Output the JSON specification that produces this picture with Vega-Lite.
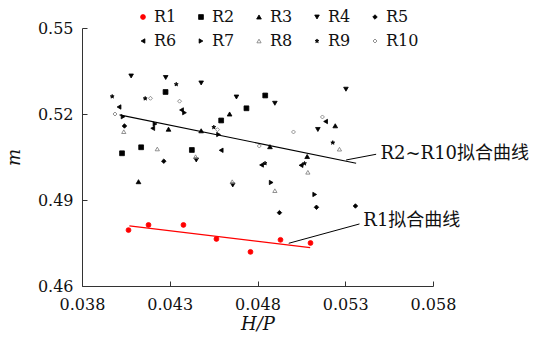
{
  "$schema": "https://vega.github.io/schema/vega-lite/v6.json",
  "width": 351,
  "height": 258,
  "autosize": {"type": "none"},
  "padding": {"left": 82, "top": 28, "right": 105, "bottom": 55},
  "background": "white",
  "config": {
    "view": {"stroke": null},
    "axis": {
      "grid": false,
      "domainColor": "#333333",
      "tickColor": "#333333",
      "labelFont": "DejaVu Serif",
      "labelFontSize": 16,
      "labelColor": "#111111",
      "titleFont": "DejaVu Serif",
      "titleFontSize": 18,
      "titleFontWeight": "normal",
      "titleFontStyle": "italic",
      "titleColor": "#111111",
      "tickSize": -5,
      "labelFlush": false
    }
  },
  "layer": [
    {
      "data": {
        "values": [
          {"series": "R1", "x": 0.04065, "y": 0.4795},
          {"series": "R1", "x": 0.04179, "y": 0.4813},
          {"series": "R1", "x": 0.04378, "y": 0.4813},
          {"series": "R1", "x": 0.04566, "y": 0.4764},
          {"series": "R1", "x": 0.0476, "y": 0.4719},
          {"series": "R1", "x": 0.04931, "y": 0.4761},
          {"series": "R1", "x": 0.05102, "y": 0.475},
          {"series": "R2", "x": 0.04276, "y": 0.52768},
          {"series": "R2", "x": 0.04844, "y": 0.52646},
          {"series": "R2", "x": 0.04737, "y": 0.52199},
          {"series": "R2", "x": 0.04593, "y": 0.51774},
          {"series": "R2", "x": 0.04028, "y": 0.5063},
          {"series": "R2", "x": 0.04137, "y": 0.50839},
          {"series": "R2", "x": 0.04426, "y": 0.50745},
          {"series": "R3", "x": 0.04641, "y": 0.52},
          {"series": "R3", "x": 0.04293, "y": 0.5147},
          {"series": "R3", "x": 0.04479, "y": 0.51414},
          {"series": "R3", "x": 0.04871, "y": 0.5086},
          {"series": "R3", "x": 0.05083, "y": 0.50518},
          {"series": "R3", "x": 0.04122, "y": 0.49639},
          {"series": "R3", "x": 0.05243, "y": 0.51589},
          {"series": "R4", "x": 0.0408, "y": 0.53326},
          {"series": "R4", "x": 0.04277, "y": 0.53273},
          {"series": "R4", "x": 0.04479, "y": 0.53082},
          {"series": "R4", "x": 0.0468, "y": 0.52593},
          {"series": "R4", "x": 0.04899, "y": 0.52374},
          {"series": "R4", "x": 0.05304, "y": 0.52865},
          {"series": "R4", "x": 0.05144, "y": 0.5146},
          {"series": "R4", "x": 0.04451, "y": 0.50396},
          {"series": "R4", "x": 0.04659, "y": 0.49524},
          {"series": "R5", "x": 0.04042, "y": 0.51582},
          {"series": "R5", "x": 0.04266, "y": 0.50354},
          {"series": "R5", "x": 0.04925, "y": 0.48558},
          {"series": "R5", "x": 0.05136, "y": 0.48746},
          {"series": "R5", "x": 0.05358, "y": 0.48791},
          {"series": "R6", "x": 0.04011, "y": 0.52245},
          {"series": "R6", "x": 0.04367, "y": 0.5214},
          {"series": "R6", "x": 0.04203, "y": 0.51502},
          {"series": "R6", "x": 0.04593, "y": 0.50734},
          {"series": "R6", "x": 0.05188, "y": 0.51739},
          {"series": "R6", "x": 0.04823, "y": 0.50222},
          {"series": "R6", "x": 0.05048, "y": 0.50211},
          {"series": "R7", "x": 0.04034, "y": 0.51906},
          {"series": "R7", "x": 0.04384, "y": 0.52046},
          {"series": "R7", "x": 0.04216, "y": 0.51652},
          {"series": "R7", "x": 0.04578, "y": 0.51285},
          {"series": "R7", "x": 0.04878, "y": 0.49611},
          {"series": "R7", "x": 0.05126, "y": 0.49193},
          {"series": "R8", "x": 0.04038, "y": 0.51383},
          {"series": "R8", "x": 0.04229, "y": 0.5078},
          {"series": "R8", "x": 0.04447, "y": 0.50511},
          {"series": "R8", "x": 0.04656, "y": 0.49639},
          {"series": "R8", "x": 0.04899, "y": 0.49325},
          {"series": "R8", "x": 0.05087, "y": 0.49967},
          {"series": "R8", "x": 0.05267, "y": 0.50773},
          {"series": "R9", "x": 0.03972, "y": 0.52611},
          {"series": "R9", "x": 0.04337, "y": 0.53036},
          {"series": "R9", "x": 0.0416, "y": 0.52541},
          {"series": "R9", "x": 0.04551, "y": 0.5154},
          {"series": "R9", "x": 0.05229, "y": 0.51},
          {"series": "R9", "x": 0.04843, "y": 0.50281},
          {"series": "R9", "x": 0.05068, "y": 0.50274},
          {"series": "R10", "x": 0.03988, "y": 0.52},
          {"series": "R10", "x": 0.0419, "y": 0.52548},
          {"series": "R10", "x": 0.04356, "y": 0.52447},
          {"series": "R10", "x": 0.04572, "y": 0.51453},
          {"series": "R10", "x": 0.0481, "y": 0.50884},
          {"series": "R10", "x": 0.05005, "y": 0.51373},
          {"series": "R10", "x": 0.0517, "y": 0.51896}
        ]
      },
      "mark": {"type": "point", "strokeWidth": 0.8, "opacity": 1},
      "encoding": {
        "x": {
          "field": "x", "type": "quantitative",
          "scale": {"domain": [0.038, 0.058], "nice": false, "zero": false},
          "axis": {"values": [0.038, 0.043, 0.048, 0.053, 0.058], "format": ".3f", "title": "H/P", "labelPadding": 15, "titlePadding": 3}
        },
        "y": {
          "field": "y", "type": "quantitative",
          "scale": {"domain": [0.46, 0.55], "nice": false, "zero": false},
          "axis": {"values": [0.46, 0.49, 0.52, 0.55], "format": ".2f", "title": "m", "labelPadding": 14, "titlePadding": 14}
        },
        "shape": {
          "field": "series", "type": "nominal",
          "scale": {
            "domain": ["R1", "R2", "R3", "R4", "R5", "R6", "R7", "R8", "R9", "R10"],
            "range": ["circle", "square", "triangle-up", "triangle-down", "diamond", "triangle-left", "triangle-right", "triangle-up", "M0,-1L0.2245,-0.309L0.951,-0.309L0.363,0.118L0.588,0.809L0,0.382L-0.588,0.809L-0.363,0.118L-0.951,-0.309L-0.2245,-0.309Z", "diamond"]
          },
          "legend": {
            "title": null, "orient": "none", "legendX": 53, "legendY": -19, "columns": 5, "direction": "horizontal",
            "gridAlign": "all",
            "labelFont": "DejaVu Serif", "labelFontSize": 16, "labelColor": "#111111", "labelOffset": 3,
            "columnPadding": 6, "rowPadding": 8, "padding": 0, "symbolSize": 22, "symbolStrokeWidth": 0.8
          }
        },
        "fill": {
          "field": "series", "type": "nominal",
          "scale": {
            "domain": ["R1", "R2", "R3", "R4", "R5", "R6", "R7", "R8", "R9", "R10"],
            "range": ["#ff0000", "#000000", "#000000", "#000000", "#000000", "#000000", "#000000", "transparent", "#000000", "transparent"]
          },
          "legend": {"title": null}
        },
        "stroke": {
          "field": "series", "type": "nominal",
          "scale": {
            "domain": ["R1", "R2", "R3", "R4", "R5", "R6", "R7", "R8", "R9", "R10"],
            "range": ["#ff0000", "#000000", "#000000", "#000000", "#000000", "#000000", "#000000", "#777777", "#000000", "#777777"]
          },
          "legend": {"title": null}
        },
        "size": {
          "field": "series", "type": "nominal",
          "scale": {
            "domain": ["R1", "R2", "R3", "R4", "R5", "R6", "R7", "R8", "R9", "R10"],
            "range": [24, 16, 20, 20, 20, 20, 20, 22, 22, 20]
          },
          "legend": {"title": null}
        }
      }
    },
    {
      "data": {"values": [{"x": 0.0407, "y": 0.481}, {"x": 0.051, "y": 0.4734}]},
      "mark": {"type": "line", "color": "#ff0000", "strokeWidth": 1.3},
      "encoding": {"x": {"field": "x", "type": "quantitative"}, "y": {"field": "y", "type": "quantitative"}}
    },
    {
      "data": {"values": [{"x": 0.04014, "y": 0.5197}, {"x": 0.05362, "y": 0.5028}]},
      "mark": {"type": "line", "color": "#000000", "strokeWidth": 1.1},
      "encoding": {"x": {"field": "x", "type": "quantitative"}, "y": {"field": "y", "type": "quantitative"}}
    },
    {
      "data": {"values": [
        {"x": 0.04978, "y": 0.4749, "x2": 0.05381, "y2": 0.48164},
        {"x": 0.05305, "y": 0.50396, "x2": 0.05476, "y2": 0.50595}
      ]},
      "mark": {"type": "rule", "color": "#000000", "strokeWidth": 1},
      "encoding": {
        "x": {"field": "x", "type": "quantitative"},
        "y": {"field": "y", "type": "quantitative"},
        "x2": {"field": "x2"},
        "y2": {"field": "y2"}
      }
    },
    {
      "data": {"values": [
        {"x": 0.05403, "y": 0.48268, "label": "R1拟合曲线"},
        {"x": 0.05501, "y": 0.50605, "label": "R2~R10拟合曲线"}
      ]},
      "mark": {"type": "text", "align": "left", "baseline": "middle", "font": "DejaVu Serif, Noto Sans CJK SC", "fontSize": 18, "color": "#111111"},
      "encoding": {
        "x": {"field": "x", "type": "quantitative"},
        "y": {"field": "y", "type": "quantitative"},
        "text": {"field": "label"}
      }
    }
  ]
}
